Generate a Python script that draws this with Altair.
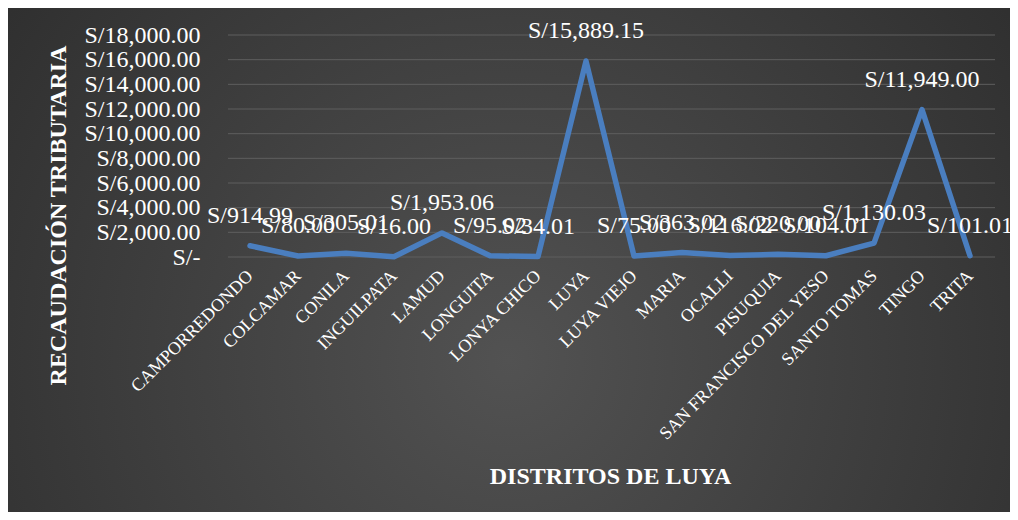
import altair as alt
import pandas as pd

distritos = ["CAMPORREDONDO", "COLCAMAR", "CONILA", "INGUILPATA", "LAMUD", "LONGUITA",
             "LONYA CHICO", "LUYA", "LUYA VIEJO", "MARIA", "OCALLI", "PISUQUIA",
             "SAN FRANCISCO DEL YESO", "SANTO TOMAS", "TINGO", "TRITA"]
recaudacion = [914.99, 80.00, 305.01, 16.00, 1953.06, 95.02, 34.01, 15889.15, 75.00,
               363.02, 116.02, 220.00, 104.01, 1130.03, 11949.00, 101.01]
y_ticks = [0, 2000, 4000, 6000, 8000, 10000, 12000, 14000, 16000, 18000]

df = pd.DataFrame({"distrito": distritos, "valor": recaudacion})
df["etiqueta"] = ["S/" + format(v, ",.2f") for v in recaudacion]
grid_df = pd.DataFrame({"valor": y_ticks})

W, H = 768, 222
FONT = "Liberation Serif"

x_scale = alt.Scale(type="point", padding=0.5)
y_scale = alt.Scale(domain=[0, 18000], nice=False)

x_enc = alt.X("distrito:N", sort=None, scale=x_scale,
              axis=alt.Axis(title="DISTRITOS DE LUYA", labelAngle=-45, labelAlign="right",
                            labelBaseline="middle", labelPadding=16, labelFontSize=18,
                            labelColor="white", labelFont=FONT, ticks=False, domain=False,
                            grid=False, labelLimit=0,
                            titleFont=FONT, titleFontSize=24, titleColor="white",
                            titleFontWeight="bold", titleY=219, titleBaseline="middle",
                            labelOverlap=False, zindex=1))
y_enc = alt.Y("valor:Q", scale=y_scale,
              axis=alt.Axis(title="RECAUDACIÓN TRIBUTARIA", values=y_ticks,
                            labelExpr="datum.value == 0 ? 'S/-\u00a0\u00a0' : 'S/' + format(datum.value, ',.2f')",
                            labelFontSize=24, labelFont=FONT, labelColor="white", labelPadding=26,
                            ticks=False, domain=False, grid=False, labelOverlap=False,
                            titleFont=FONT, titleFontSize=24, titleColor="white",
                            titleFontWeight="bold", titleAngle=-90, titleX=-168, titleY=180,
                            titleAlign="center", titleBaseline="middle", zindex=1))

bg = alt.Chart(alt.Data(values=[{}])).mark_rect(
    color=alt.Gradient(gradient="radial", x1=0.5, y1=0.6, x2=0.5, y2=0.6, r1=0, r2=0.75,
                       stops=[alt.GradientStop(offset=0, color="#525252"),
                              alt.GradientStop(offset=1, color="#282828")]),
    clip=False
).encode(x=alt.value(-218), x2=alt.value(W + 16), y=alt.value(-27), y2=alt.value(H + 255))

grid = alt.Chart(grid_df).mark_rule(color="#5e5e5e", strokeWidth=1).encode(
    y=y_enc, x=alt.value(2), x2=alt.value(W + 1))

line = alt.Chart(df).mark_line(color="#4a7ebf", strokeWidth=5.5, strokeJoin="round",
                               strokeCap="round").encode(x=x_enc, y=y_enc)

labels = alt.Chart(df).mark_text(font=FONT, fontSize=24, color="white", dy=-30,
                                 baseline="middle").encode(
    x=x_enc, y=y_enc, text="etiqueta:N")

chart = alt.layer(bg, grid, line, labels).properties(
    width=W, height=H,
    autosize=alt.AutoSizeParams(type="none"),
    padding={"left": 218, "top": 27, "right": 16, "bottom": 255},
    background="white"
).configure_view(stroke=None)

chart.save("out.html", embed_options={"renderer": "svg", "actions": False})
